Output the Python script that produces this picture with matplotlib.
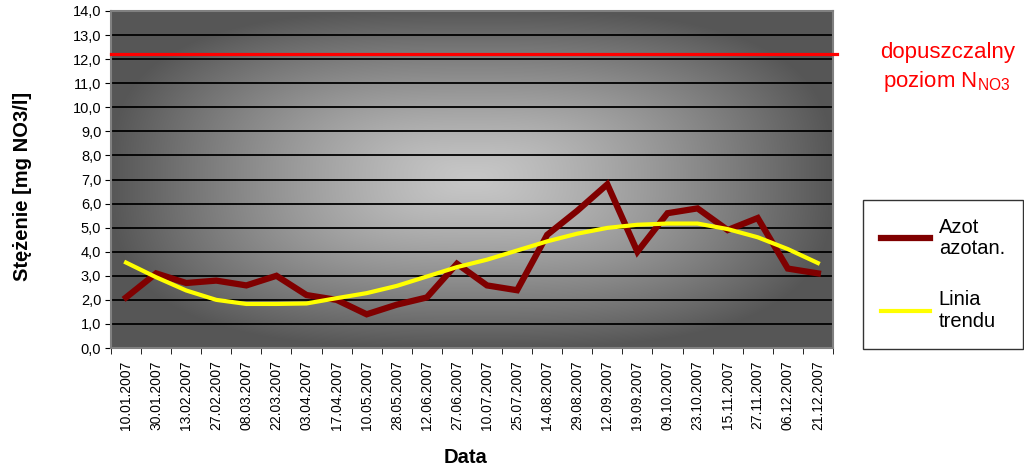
import numpy as np
import matplotlib.pyplot as plt
from matplotlib.ticker import FuncFormatter, FixedLocator

plt.rcParams['font.family'] = ['Liberation Sans', 'DejaVu Sans']

# Daty pomiarów
daty = ['10.01.2007', '30.01.2007', '13.02.2007', '27.02.2007', '08.03.2007',
        '22.03.2007', '03.04.2007', '17.04.2007', '10.05.2007', '28.05.2007',
        '12.06.2007', '27.06.2007', '10.07.2007', '25.07.2007', '14.08.2007',
        '29.08.2007', '12.09.2007', '19.09.2007', '09.10.2007', '23.10.2007',
        '15.11.2007', '27.11.2007', '06.12.2007', '21.12.2007']

# Azot azotanowy [mg NO3/l]
azot = [2.1, 3.1, 2.7, 2.8, 2.6, 3.0, 2.2, 2.0, 1.4, 1.8, 2.1, 3.5,
        2.6, 2.4, 4.7, 5.7, 6.8, 4.0, 5.6, 5.8, 4.9, 5.4, 3.3, 3.1]

# Linia trendu
trend = [3.55, 2.94, 2.39, 2.0, 1.83, 1.83, 1.85, 2.07, 2.28, 2.58, 2.97, 3.36,
         3.67, 4.05, 4.43, 4.75, 4.99, 5.12, 5.17, 5.17, 4.94, 4.6, 4.11, 3.53]

# Dopuszczalny poziom
limit = 12.2

fig = plt.figure(figsize=(10.24, 4.72), dpi=100)
ax = fig.add_axes([0.1084, 0.2627, 0.705, 0.714])

# Tło: gradient od środka (jasny) do krawędzi (ciemny)
u = np.linspace(-1, 1, 400)
v = np.linspace(-1, 1, 300)
U, V = np.meshgrid(u, v)
t = (np.abs(U) ** 3 + np.abs(V) ** 3) ** (1 / 3)
t = np.clip(t, 0, 1)
g = 0.78 - 0.44 * t ** 1.3
bg = np.dstack([g, g, g])
ax.imshow(bg, extent=(0, 1, 0, 1), transform=ax.transAxes, aspect='auto',
          zorder=0, interpolation='bilinear')

x = np.arange(len(daty))
ax.set_xlim(-0.5, len(daty) - 0.5)
ax.set_ylim(0, 14)

for yv in range(1, 14):
    ax.axhline(yv, color='black', lw=1.3, zorder=1)

ax.plot(x, azot, color='#800000', lw=4.5, zorder=3, label='Azot\nazotan.',
        solid_joinstyle='miter')
ax.plot(x, trend, color='#ffff00', lw=3, zorder=4, label='Linia\ntrendu')
ax.axhline(limit, color='#ff0000', lw=2.3, zorder=5, clip_on=False, xmax=1.005)

ax.yaxis.set_major_locator(FixedLocator(np.arange(0, 15, 1)))
ax.yaxis.set_major_formatter(FuncFormatter(lambda val, pos: f'{val:.1f}'.replace('.', ',')))
ax.tick_params(axis='y', direction='out', length=4, labelsize=10.5, pad=3)

ax.set_xticks(x)
ax.set_xticklabels(daty, rotation=90, fontsize=10)
ax.xaxis.set_minor_locator(FixedLocator(np.arange(-0.5, len(daty), 1)))
ax.tick_params(axis='x', which='major', length=0, pad=9)
ax.tick_params(axis='x', which='minor', direction='out', length=4)

for s in ax.spines.values():
    s.set_color('#808080')
    s.set_linewidth(1.5)

ax.set_ylabel('Stężenie [mg NO3/l]', fontsize=14.5, fontweight='bold')
ax.yaxis.set_label_coords(-0.11, 0.48)
fig.text(0.455, 0.02, 'Data', fontsize=14.5, fontweight='bold', ha='center')

fig.text(0.925, 0.888, 'dopuszczalny', color='#ff0000', fontsize=16,
         ha='center', va='center')
fig.text(0.925, 0.828, r'poziom N$_{\mathregular{NO3}}$', color='#ff0000',
         fontsize=16, ha='center', va='center')

leg = fig.legend(loc='upper left', bbox_to_anchor=(0.843, 0.577), fontsize=14.5,
                 frameon=True, fancybox=False, edgecolor='black',
                 handlelength=2.4, borderpad=0.9, labelspacing=1.6,
                 handletextpad=0.45, borderaxespad=0)
leg.get_frame().set_linewidth(1.0)
for txt in leg.get_texts():
    txt.set_linespacing(1.15)

fig.savefig('out.png', dpi=100)
